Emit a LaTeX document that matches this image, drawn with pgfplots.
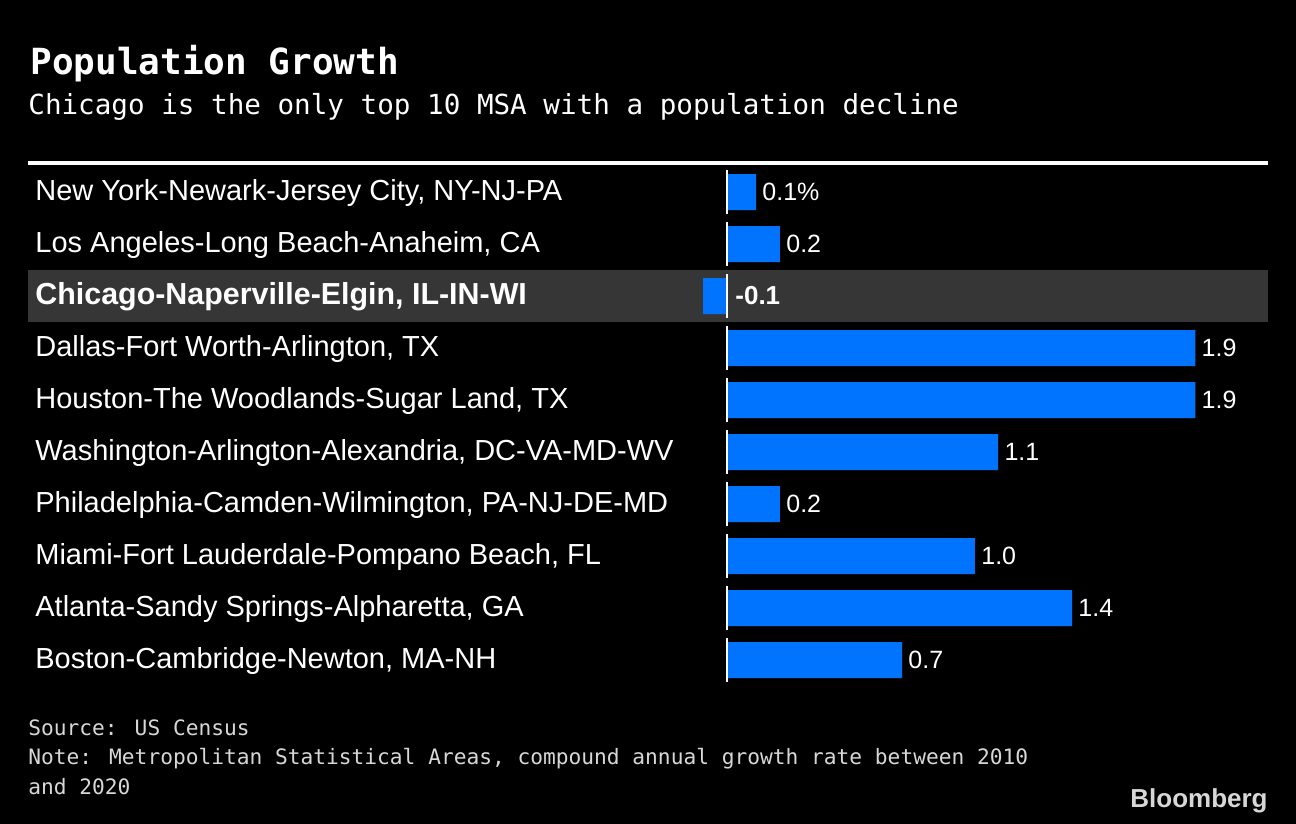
\documentclass[border=0pt]{standalone}
\usepackage{pgfplots}
\pgfplotsset{compat=1.18}
\usepackage{pgfplotstable}
\usepackage{fontspec}
\setmainfont{Liberation Sans}
\newfontfamily\monofont{DejaVu Sans Mono}
\definecolor{barblue}{RGB}{0,115,255}
\definecolor{band}{RGB}{54,54,54}
\definecolor{notegray}{RGB}{215,215,215}

\pgfplotstableread{
y x lab
0 0.118 {0.1\%}
1 0.215 0.2
2 -0.097 {}
3 1.90 1.9
4 1.90 1.9
5 1.10 1.1
6 0.215 0.2
7 1.006 1.0
8 1.40 1.4
9 0.71 0.7
}\datatable

\begin{document}
\begin{tikzpicture}
\fill[black] (0,0) rectangle (648pt,-412pt);
\node[anchor=base west, text=white, inner sep=0, font=\monofont\bfseries\fontsize{18}{20}\selectfont] at (15pt,-37.5pt) {Population Growth};
\node[anchor=base west, text=white, inner sep=0, font=\monofont\fontsize{13.8}{16}\selectfont] at (14pt,-57.5pt) {Chicago is the only top 10 MSA with a population decline};
\draw[white, line width=2pt] (14pt,-81.5pt) -- (634pt,-81.5pt);

\begin{axis}[
  at={(14pt,-343pt)}, anchor=south west,
  scale only axis, width=620pt, height=260pt,
  xmin=-2.836, xmax=2.195, ymin=-0.5, ymax=9.5, y dir=reverse,
  axis line style={draw=none},
  xtick=\empty, ytick={0,...,9},
  yticklabels={
    New York-Newark-Jersey City{,} NY-NJ-PA,
    Los Angeles-Long Beach-Anaheim{,} CA,
    {},
    Dallas-Fort Worth-Arlington{,} TX,
    Houston-The Woodlands-Sugar Land{,} TX,
    Washington-Arlington-Alexandria{,} DC-VA-MD-WV,
    Philadelphia-Camden-Wilmington{,} PA-NJ-DE-MD,
    Miami-Fort Lauderdale-Pompano Beach{,} FL,
    Atlanta-Sandy Springs-Alpharetta{,} GA,
    Boston-Cambridge-Newton{,} MA-NH},
  yticklabel style={anchor=base west, inner sep=0pt, xshift=3.5pt, yshift=-4pt, text=white, font=\fontsize{14.5}{16}\selectfont},
  major tick length=0pt,
  clip=false,
]
\fill[band] (axis cs:-2.836,1.5) rectangle (axis cs:2.195,2.5);
\node[anchor=base west, inner sep=0pt, text=white, font=\bfseries\fontsize{15.2}{16}\selectfont] at (axis cs:-2.836,2) [xshift=3.5pt, yshift=-4pt] {Chicago-Naperville-Elgin, IL-IN-WI};
\addplot[xbar, bar width=18pt, fill=barblue, draw=none,
  nodes near coords, point meta=explicit symbolic,
  nodes near coords style={anchor=west, text=white, inner sep=0pt, xshift=3pt, font=\fontsize{12.5}{14}\selectfont}]
  table[x=x, y=y, meta=lab] {\datatable};
\pgfplotsinvokeforeach{0,...,9}{
  \draw[white, line width=1pt] (axis cs:0,{#1-0.43}) -- (axis cs:0,{#1+0.43});
}
\node[anchor=west, text=white, inner sep=0pt, font=\bfseries\fontsize{13}{14}\selectfont] at (axis cs:0,2) [xshift=4pt] {-0.1};
\end{axis}

\node[anchor=base west, text=notegray, inner sep=0, font=\monofont\fontsize{10.6}{12}\selectfont] at (14pt,-367.5pt) {Source: US Census};
\node[anchor=base west, text=notegray, inner sep=0, font=\monofont\fontsize{10.6}{12}\selectfont] at (14pt,-382pt) {Note: Metropolitan Statistical Areas, compound annual growth rate between 2010};
\node[anchor=base west, text=notegray, inner sep=0, font=\monofont\fontsize{10.6}{12}\selectfont] at (14pt,-397pt) {and 2020};
\node[anchor=base east, text=notegray, inner sep=0, font=\bfseries\fontsize{13}{15}\selectfont] at (634pt,-403.5pt) {Bloomberg};
\end{tikzpicture}
\end{document}
